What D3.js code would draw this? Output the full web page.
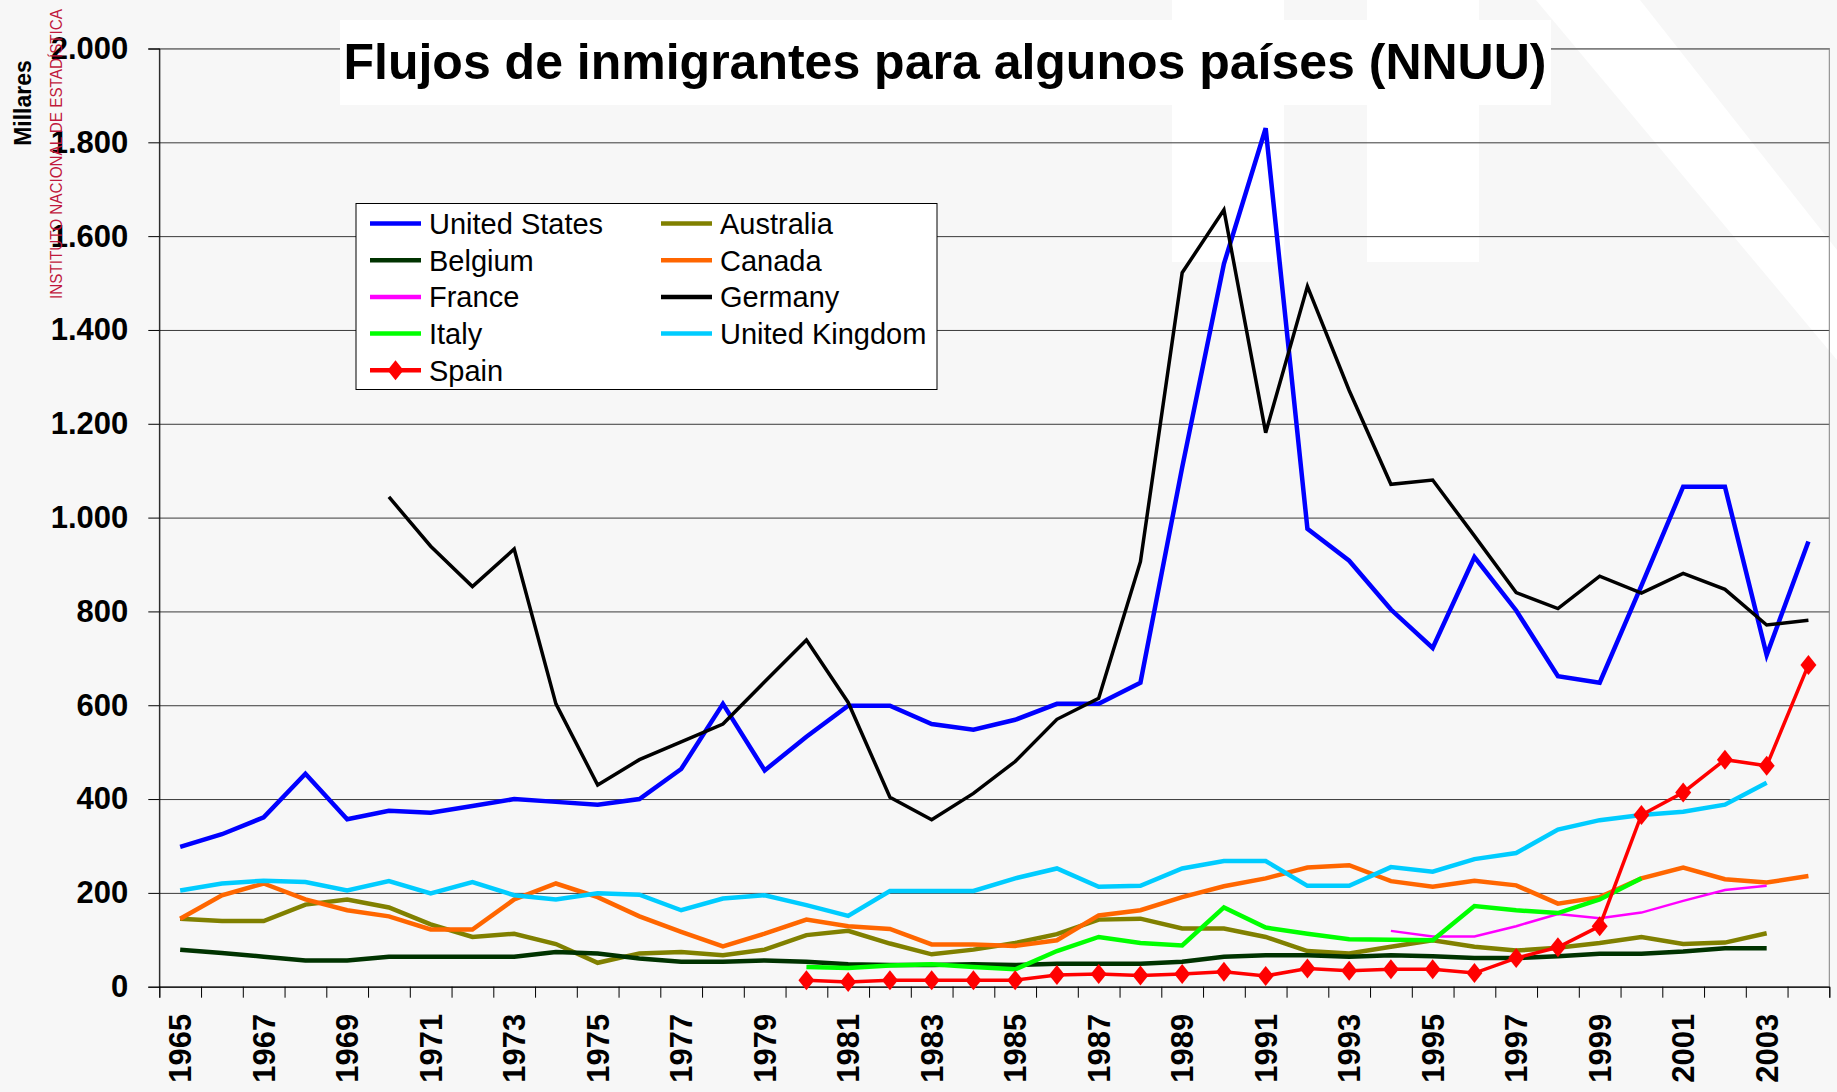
<!DOCTYPE html>
<html>
<head>
<meta charset="utf-8">
<script src="https://cdn.jsdelivr.net/npm/d3@7"></script>
<style>
  body { margin: 0; background: #f7f7f7; }
  svg { display: block; font-family: "Liberation Sans", Arial, sans-serif; }
</style>
</head>
<body>
<div id="chart"></div>
<script>
// Data (thousands of immigrants)
let years = d3.range(1965, 2005);
let yTicks = [0, 200, 400, 600, 800, 1000, 1200, 1400, 1600, 1800, 2000];
let xLabels = d3.range(1965, 2004, 2);

let unitedStates = [298, 325, 361, 454, 357, 375, 371, 385, 400, 394,
  388, 400, 464, 603, 461, 533, 599, 599, 560, 548,
  569, 603, 603, 648, 1107, 1541, 1830, 976, 908, 804,
  722, 916, 802, 662, 648, 855, 1066, 1066, 707, 949];
let australia = [145, 140, 140, 175, 186, 169, 133, 106, 113, 91,
  51, 71, 74, 67, 79, 110, 119, 92, 69, 79,
  93, 112, 143, 145, 124, 124, 106, 76, 71, 85,
  99, 85, 77, 83, 93, 106, 91, 94, 114, null];
let belgium = [79, 72, 64, 56, 56, 64, 64, 64, 64, 74,
  71, 60, 53, 53, 56, 53, 48, 46, 46, 48,
  46, 49, 49, 49, 53, 64, 67, 67, 64, 67,
  65, 61, 61, 65, 70, 70, 75, 82, 82, null];
let canada = [145, 195, 220, 186, 163, 150, 122, 122, 186, 220,
  191, 150, 117, 86, 113, 143, 129, 123, 90, 90,
  87, 99, 152, 163, 191, 214, 231, 254, 259, 225,
  213, 226, 216, 177, 191, 231, 254, 229, 222, 236];
let france = [null, null, null, null, null, null, null, null, null, null,
  null, null, null, null, null, null, null, null, null, null,
  null, null, null, null, null, null, null, null, null, 119,
  107, 107, 129, 155, 146, 158, 183, 206, 215, null];
let germany = [null, null, null, null, null, 1044, 939, 853, 933, 603,
  430, 484, 522, 560, 650, 739, 606, 404, 356, 412,
  480, 570, 615, 906, 1522, 1656, 1181, 1493, 1271, 1071,
  1080, 961, 840, 806, 875, 839, 881, 847, 771, 781];
let italy = [null, null, null, null, null, null, null, null, null, null,
  null, null, null, null, null, 42, 40, 45, 48, 42,
  37, 76, 106, 93, 88, 169, 126, 113, 101, 100,
  99, 172, 163, 157, 186, 231, null, null, null, null];
let unitedKingdom = [205, 220, 226, 223, 205, 225, 199, 223, 195, 186,
  199, 196, 163, 188, 195, 174, 151, 204, 204, 204,
  231, 252, 213, 215, 252, 268, 268, 215, 215, 255,
  245, 272, 285, 335, 355, 366, 373, 388, 435, null];
let spain = [null, null, null, null, null, null, null, null, null, null,
  null, null, null, null, null, 14, 10, 14, 14, 14,
  14, 25, 27, 24, 27, 32, 23, 39, 34, 37,
  37, 29, 61, 84, 129, 366, 414, 484, 471, 686];

// series in drawing order (same as the legend, row by row)
let series = [
  {name: 'United States', values: unitedStates, color: '#0000ff', width: 4.5},
  {name: 'Australia', values: australia, color: '#808000', width: 4.5},
  {name: 'Belgium', values: belgium, color: '#003300', width: 4.5},
  {name: 'Canada', values: canada, color: '#ff6600', width: 4.5},
  {name: 'France', values: france, color: '#ff00ff', width: 2.5},
  {name: 'Germany', values: germany, color: '#000000', width: 3.5},
  {name: 'Italy', values: italy, color: '#00ff00', width: 4.5},
  {name: 'United Kingdom', values: unitedKingdom, color: '#00ccff', width: 4.5},
  {name: 'Spain', values: spain, color: '#ff0000', width: 3.5, marker: true}
];

let
  width = 1837,
  height = 1092;

let margin = {
  top: 48.5,
  bottom: 105.3,
  left: 159.3,
  right: 7.7
}

let svg = d3.select('#chart')
            .append('svg')
            .attr('width', width)
            .attr('height', height)
            .style('background', '#f7f7f7')

// faint watermark at the top of the background
let wm = svg.append('g').attr('fill', '#ffffff')
wm.append('rect').attr('x', 1172).attr('y', 0).attr('width', 112).attr('height', 262)
wm.append('rect').attr('x', 1367).attr('y', 0).attr('width', 112).attr('height', 262)
wm.append('path').attr('d', 'M1536,0 L1640,0 L1837,250 L1837,360 Z')

// scales
let xScale = d3.scaleBand()
              .domain(years)
              .range([margin.left, width - margin.right])
              .padding(0);

let xEdge = d3.scaleLinear()
              .domain([0, years.length])
              .range([margin.left, width - margin.right]);

let yScale = d3.scaleLinear()
              .domain([0, 2000])
              .range([height - margin.bottom, margin.top]);

let cx = d => xScale(d) + xScale.bandwidth() / 2;

let es = d3.formatLocale({decimal: ',', thousands: '.', grouping: [3], currency: ['', '€']});
let fmt = es.format(',');

// gridlines
svg.append('g')
  .attr('transform', `translate(${margin.left},0)`)
  .call(d3.axisLeft(yScale).tickValues(yTicks).tickSize(-(width - margin.left - margin.right)).tickFormat(''))
  .call(g => g.select('.domain').remove())
  .selectAll('line')
  .attr('stroke', '#3a3a3a')

// plot frame
svg.append('rect')
  .attr('x', margin.left)
  .attr('y', margin.top)
  .attr('width', width - margin.left - margin.right)
  .attr('height', height - margin.top - margin.bottom)
  .attr('fill', 'none')
  .attr('stroke', '#808080')

// y axis
svg.append('g')
  .attr('transform', `translate(${margin.left},0)`)
  .call(d3.axisLeft(yScale).tickValues(yTicks).tickSize(11).tickPadding(20).tickFormat(fmt))
  .call(g => g.select('.domain').attr('stroke', '#000'))
  .selectAll('text')
  .style('font-size', '31px')
  .style('font-weight', 'bold')
  .attr('fill', '#000')

// x axis: ticks between categories
svg.append('g')
  .attr('transform', `translate(0,${height - margin.bottom})`)
  .call(d3.axisBottom(xEdge).tickValues(d3.range(0, years.length + 1)).tickSize(11).tickFormat(''))
  .call(g => g.select('.domain').attr('stroke', '#000'))

// x axis labels (odd years)
svg.append('g')
  .selectAll('text')
  .data(xLabels)
  .enter()
  .append('text')
  .attr('transform', d => `translate(${cx(d)},${height - margin.bottom + 27}) rotate(-90)`)
  .attr('dy', '0.36em')
  .style('text-anchor', 'end')
  .style('font-size', '31px')
  .style('font-weight', 'bold')
  .text(d => d)

// lines
let line = d3.line()
  .defined(d => d.v !== null)
  .x(d => cx(d.year))
  .y(d => yScale(d.v));

series.forEach(s => {
  let pts = years.map((y, i) => ({year: y, v: s.values[i]}));
  svg.append('path')
    .datum(pts)
    .attr('fill', 'none')
    .attr('stroke', s.color)
    .attr('stroke-width', s.width)
    .attr('stroke-linejoin', 'miter')
    .attr('d', line)
  if (s.marker) {
    svg.append('g')
      .selectAll('path')
      .data(pts.filter(d => d.v !== null))
      .enter()
      .append('path')
      .attr('d', 'M0,-10 L8,0 L0,10 L-8,0 Z')
      .attr('transform', d => `translate(${cx(d.year)},${yScale(d.v)})`)
      .attr('fill', s.color)
  }
})

// title
svg.append('rect')
  .attr('x', 340)
  .attr('y', 20)
  .attr('width', 1211)
  .attr('height', 85)
  .attr('fill', '#ffffff')

svg.append('text')
  .attr('x', 945)
  .attr('y', 79)
  .text('Flujos de inmigrantes para algunos países (NNUU)')
  .style('text-anchor', 'middle')
  .style('font-size', '50px')
  .style('font-weight', 'bold')

// side texts
svg.append('text')
  .attr('transform', 'translate(31,103) rotate(-90)')
  .text('Millares')
  .style('text-anchor', 'middle')
  .style('font-size', '23px')
  .style('font-weight', 'bold')

svg.append('text')
  .attr('transform', 'translate(62,154) rotate(-90)')
  .text('INSTITUTO NACIONAL DE ESTADÍSTICA')
  .attr('textLength', 290)
  .attr('lengthAdjust', 'spacingAndGlyphs')
  .style('text-anchor', 'middle')
  .style('font-size', '16px')
  .attr('fill', '#c0183c')

// legend
let legend = svg.append('g')
legend.append('rect')
  .attr('x', 356)
  .attr('y', 203.5)
  .attr('width', 581)
  .attr('height', 186)
  .attr('fill', '#ffffff')
  .attr('stroke', '#000')

let item = legend.selectAll('g.item')
  .data(series)
  .enter()
  .append('g')
  .attr('class', 'item')
  .attr('transform', (d, i) => `translate(${i % 2 === 0 ? 370 : 661},${223.5 + Math.floor(i / 2) * 36.7})`)

item.append('line')
  .attr('x1', 0)
  .attr('x2', 51)
  .attr('stroke', d => d.color)
  .attr('stroke-width', 4.5)

item.filter(d => d.marker)
  .append('path')
  .attr('d', 'M25.5,-10 L33.5,0 L25.5,10 L17.5,0 Z')
  .attr('fill', d => d.color)

item.append('text')
  .attr('x', 59)
  .attr('dy', '0.36em')
  .text(d => d.name)
  .style('font-size', '29px')
</script>
</body>
</html>
